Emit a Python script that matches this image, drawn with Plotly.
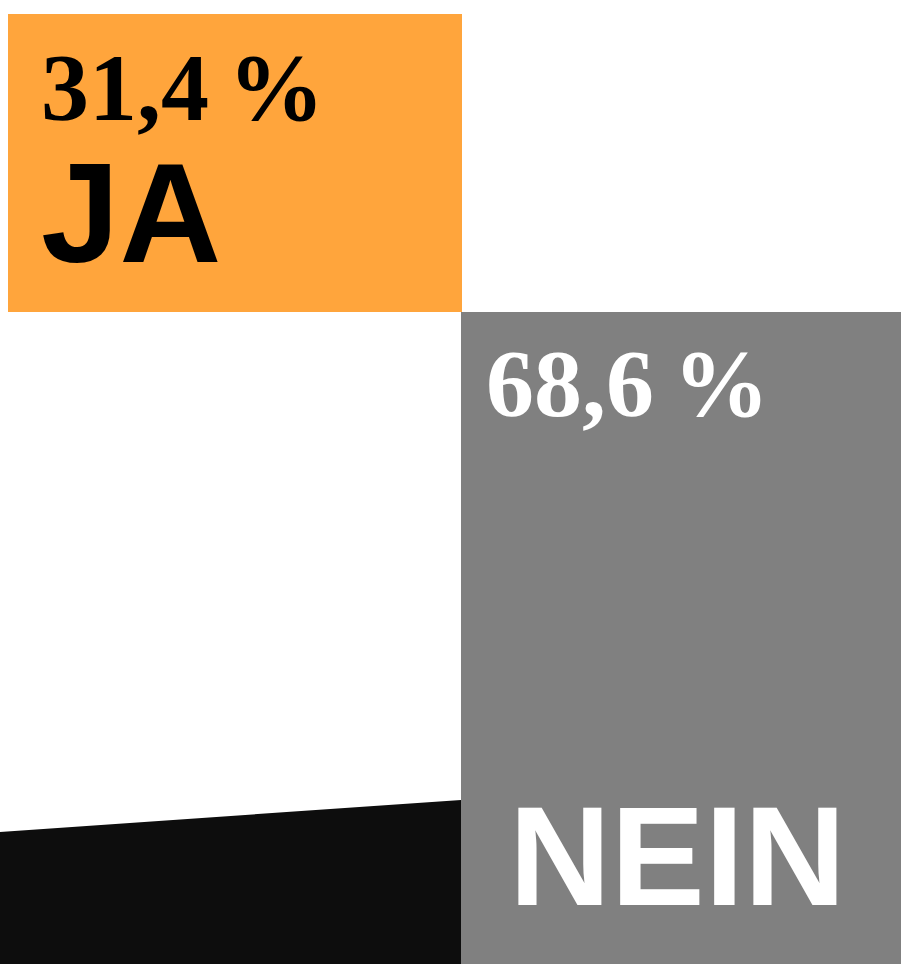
import plotly.graph_objects as go

# Data
categories = ["JA", "NEIN"]
shares = [31.4, 68.6]
share_labels = ["31,4\u202f%", "68,6\u202f%"]
bar_colors = ["#FFA53C", "#808080"]
band_x = [0, 461, 461, 0]
band_y = [13.9, 17.26, 0, 0]

W, H = 901, 964
top_px = 14
scale = (H - top_px) / 100.0  # px per percent
ymax = H / scale


def py(pix):
    return (H - pix) / scale


fig = go.Figure()

# Decorative black band
fig.add_trace(go.Scatter(x=band_x, y=band_y, fill="toself", mode="lines",
                         line=dict(width=0, color="#0d0d0d"), fillcolor="#0d0d0d",
                         hoverinfo="skip", showlegend=False))

# Staircase bars: NEIN from 0, JA stacked above
bases = [shares[1], 0]
centers = [235, 681]
widths = [454, 440]
fig.add_trace(go.Bar(x=centers, y=shares, base=bases, width=widths,
                     marker=dict(color=bar_colors, line=dict(width=0)),
                     showlegend=False, hoverinfo="skip"))

sans = "Liberation Sans"
serif = "Liberation Serif"
ann = []
# JA labels
ann.append(dict(x=39, y=py(87), text=share_labels[0], showarrow=False, xanchor="left", yanchor="middle",
                font=dict(family=serif, size=96, color="#000000", weight="bold")))
ann.append(dict(x=39, y=py(213), text=categories[0], showarrow=False, xanchor="left", yanchor="middle",
                font=dict(family=sans, size=141, color="#000000", weight="bold")))
# NEIN labels
ann.append(dict(x=484, y=py(383), text=share_labels[1], showarrow=False, xanchor="left", yanchor="middle",
                font=dict(family=serif, size=96, color="#ffffff", weight="bold")))
ann.append(dict(x=507, y=py(856), text=categories[1], showarrow=False, xanchor="left", yanchor="middle",
                font=dict(family=sans, size=141, color="#ffffff", weight="bold")))

fig.update_layout(
    width=W, height=H,
    margin=dict(l=0, r=0, t=0, b=0),
    paper_bgcolor="#ffffff", plot_bgcolor="#ffffff",
    xaxis=dict(range=[0, W], visible=False, fixedrange=True),
    yaxis=dict(range=[0, ymax], visible=False, fixedrange=True),
    annotations=ann,
    bargap=0,
)

fig.write_html("out.html", config={"displayModeBar": False},
               post_script="document.body.style.margin='0';document.body.style.overflow='hidden';")
